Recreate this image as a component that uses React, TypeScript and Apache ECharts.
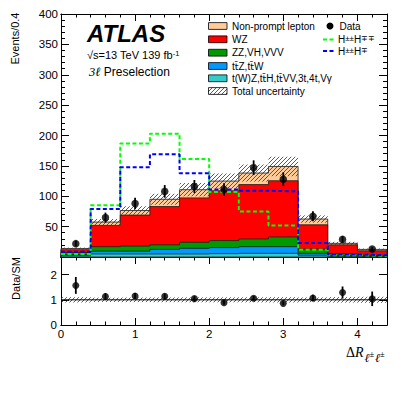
import React, { useEffect, useRef } from 'react';
import * as echarts from 'echarts';

// ---------------- data ----------------
const binEdges = [0, 0.4, 0.8, 1.2, 1.6, 2.0, 2.4, 2.8, 3.2, 3.6, 4.0, 4.4];
const nonPrompt = [2, 5.5, 7.5, 12, 13.5, 16, 19, 23.5, 9.5, 2.5, 2.3];
const wz = [4.5, 35, 51, 63, 73, 82, 89.5, 92.5, 40, 14.5, 7.2];
const zzVHVVV = [3.5, 7.5, 8.5, 7.5, 10, 11.5, 12.7, 16, 7, 3, 1.5];
const ttZttW = [2, 4.5, 4.5, 7.5, 9.3, 10, 11, 11, 3, 1.5, 1];
const tWZother = [2, 5, 5, 5, 5, 5.5, 6, 6, 3, 1, 0.5];
const totalUnc = [1.5, 5, 7, 9, 11, 12.5, 14, 16, 6, 2.5, 1.5];
const dataCounts = [22, 65, 88, 108, 116, 111, 147, 128, 67, 29, 13];
const dataErr = [4.7, 8.1, 9.4, 10.4, 10.8, 10.5, 12.1, 11.3, 8.2, 5.4, 3.6];
const sigHppHmm = [5, 85, 187, 203, 161.5, 107, 75, 52, 12, 3, 2];
const sigHppHm = [8.8, 79, 147.6, 169, 138, 111, 109, 108, 23, 4, 3];
const yTicksMain = [50, 100, 150, 200, 250, 300, 350, 400];
const xTickLabels = [0, 1, 2, 3, 4];
const ratioTickLabels = [0, 1, 2];

// ---------------- derived ----------------
const FONT = "'Liberation Sans', Arial, Helvetica, sans-serif";
const SERIF = "'Liberation Serif', 'Times New Roman', serif";
const nBins = dataCounts.length;
const binCenters = dataCounts.map((_, i) => (binEdges[i] + binEdges[i + 1]) / 2);

const TB = '{o|t\u0304}';
const stackLayers = [
  { label: '{n|Non-prompt lepton}', values: nonPrompt, color: '#FFCC99' },
  { label: '{n|WZ}', values: wz, color: '#FF0000' },
  { label: '{n|ZZ,VH,VVV}', values: zzVHVVV, color: '#009900' },
  { label: `{n|t}${TB}{n|Z,t}${TB}{n|W}`, values: ttZttW, color: '#0099FF' },
  { label: `{n|t(W)Z,t}${TB}{n|H,t}${TB}{n|VV,3t,4t,V\u03b3}`, values: tWZother, color: '#33CCCC' },
];
const cumulative = stackLayers.map((_, k) =>
  dataCounts.map((__, i) => stackLayers.slice(k).reduce((s, l) => s + l.values[i], 0))
);
const total = cumulative[0];
const ratio = dataCounts.map((d, i) => d / total[i]);
const ratioErr = dataErr.map((e, i) => e / total[i]);
const ratioUnc = totalUnc.map((u, i) => u / total[i]);

function hatch(x0: number, y0: number, w: number, h: number, spacing = 4, color = '#333', lw = 0.8) {
  const out: any[] = [];
  const cStart = Math.ceil((x0 + y0) / spacing) * spacing;
  for (let c = cStart; c < x0 + w + y0 + h; c += spacing) {
    const xa = Math.max(x0, c - (y0 + h));
    const xb = Math.min(x0 + w, c - y0);
    if (xb > xa) {
      out.push({ type: 'line', shape: { x1: xa, y1: c - xa, x2: xb, y2: c - xb }, style: { stroke: color, lineWidth: lw } });
    }
  }
  return out;
}

const axisLine = { show: true, onZero: false, lineStyle: { color: '#000', width: 1 } };

function xAx(grid: number, position: string, interval: number, tickLen: number, labels: boolean) {
  return {
    type: 'value', gridIndex: grid, position, min: 0, max: 4.4, interval,
    axisLine,
    axisTick: { show: true, inside: true, length: tickLen, lineStyle: { color: '#000', width: 1 } },
    axisLabel: {
      show: labels, margin: 3, color: '#000', fontFamily: FONT, fontSize: 11.5,
      formatter: (v: number) => (xTickLabels.includes(Math.round(v * 1000) / 1000) ? String(v) : ''),
    },
    splitLine: { show: false },
  };
}

function yMain(position: string, labels: boolean) {
  return {
    type: 'value', gridIndex: 0, position, min: 0, max: 400, interval: 50,
    axisLine,
    axisTick: { show: true, inside: true, length: 8, lineStyle: { color: '#000' } },
    minorTick: { show: true, splitNumber: 5, length: 4, lineStyle: { color: '#000' } },
    axisLabel: {
      show: labels, margin: 3, color: '#000', fontFamily: FONT, fontSize: 11.5,
      formatter: (v: number) => (yTicksMain.includes(v) ? String(v) : ''),
    },
    splitLine: { show: false },
  };
}

function yRatio(position: string, labels: boolean) {
  return {
    type: 'value', gridIndex: 1, position, min: 0, max: 2.7, interval: 1,
    axisLine,
    axisTick: { show: true, inside: true, length: 8, lineStyle: { color: '#000' } },
    axisLabel: {
      show: labels, margin: 4, color: '#000', fontFamily: FONT, fontSize: 11.5,
      formatter: (v: number) => (ratioTickLabels.includes(v) ? String(v) : ''),
    },
    splitLine: { show: false },
  };
}

function errorBarSeries(xIdx: number, yIdx: number, vals: number[], errs: number[]) {
  return {
    type: 'custom', xAxisIndex: xIdx, yAxisIndex: yIdx, z: 8,
    data: vals.map((v, i) => [binCenters[i], v]),
    renderItem: (params: any, api: any) => {
      const i = params.dataIndex;
      const a = api.coord([binCenters[i], vals[i] - errs[i]]);
      const b = api.coord([binCenters[i], vals[i] + errs[i]]);
      return { type: 'line', shape: { x1: a[0], y1: a[1], x2: b[0], y2: b[1] }, style: { stroke: '#000', lineWidth: 1.8 } };
    },
  };
}

function stepData(vals: number[]) {
  return binEdges.map((e, i) => [e, vals[Math.min(i, nBins - 1)]]);
}

// ---------------- legend (graphic) ----------------
const legendRowsY = [26, 39.3, 52.7, 66, 78.3, 91];
const legendBoxX = 208.5;
const legendBoxW = 18.5;
const legendBoxH = 6.8;

function buildGraphic() {
  const g: any[] = [];
  const text = (x: number, y: number, t: string, size: number, extra: any = {}) => ({
    type: 'text', x, y, z: 100,
    style: { text: t, fontFamily: FONT, fontSize: size, fill: '#000', align: 'left', verticalAlign: 'middle', ...extra },
  });
  const legendRich = {
    n: { fontFamily: FONT, fontSize: 10, fill: '#000' },
    o: { fontFamily: "'DejaVu Sans', 'Noto Sans', sans-serif", fontSize: 9.5, fill: '#000' },
  };
  // ATLAS label
  g.push(text(87, 33.5, 'ATLAS', 24, { fontWeight: 'bold', fontStyle: 'italic' }));
  g.push({
    type: 'text', x: 87, y: 55, z: 100,
    style: {
      text: '{a|\u221as=13 TeV 139 fb}{b|-1}', verticalAlign: 'middle', align: 'left',
      rich: {
        a: { fontFamily: FONT, fontSize: 11, fill: '#000' },
        b: { fontFamily: FONT, fontSize: 7.5, fill: '#000', verticalAlign: 'top' },
      },
    },
  });
  g.push({
    type: 'text', x: 89, y: 72, z: 100,
    style: {
      text: '{a|3\u2113}{b| Preselection}', verticalAlign: 'middle', align: 'left',
      rich: {
        a: { fontFamily: SERIF, fontStyle: 'italic', fontSize: 12.5, fill: '#000' },
        b: { fontFamily: FONT, fontSize: 12, fill: '#000' },
      },
    },
  });
  // stacked legend boxes
  stackLayers.forEach((l, k) => {
    const y = legendRowsY[k];
    g.push({
      type: 'rect', z: 100,
      shape: { x: legendBoxX, y: y - legendBoxH / 2, width: legendBoxW, height: legendBoxH },
      style: { fill: l.color, stroke: '#000', lineWidth: 0.8 },
    });
    g.push({
      type: 'text', x: 232, y, z: 100,
      style: { text: l.label, align: 'left', verticalAlign: 'middle', rich: legendRich },
    });
  });
  const hy = legendRowsY[5];
  g.push({
    type: 'group', z: 100,
    children: [
      ...hatch(legendBoxX, hy - legendBoxH / 2, legendBoxW, legendBoxH, 4, '#333', 0.8),
      {
        type: 'rect', shape: { x: legendBoxX, y: hy - legendBoxH / 2, width: legendBoxW, height: legendBoxH },
        style: { fill: 'none', stroke: '#000', lineWidth: 0.8 },
      },
    ],
  });
  g.push(text(232, hy, 'Total uncertainty', 10));
  // data legend
  g.push({ type: 'circle', z: 100, shape: { cx: 330, cy: 26, r: 3.5 }, style: { fill: '#000' } });
  g.push(text(339.5, 26, 'Data', 10));
  // signal legends
  const sigRich = {
    n: { fontFamily: FONT, fontSize: 10, fill: '#000' },
    s: { fontFamily: FONT, fontSize: 8, fill: '#000', verticalAlign: 'top' },
  };
  g.push({ type: 'line', z: 100, shape: { x1: 323, y1: 39.5, x2: 335, y2: 39.5 }, style: { stroke: '#00FF00', lineWidth: 2, lineDash: [4, 2.5] } });
  g.push({
    type: 'text', x: 338, y: 39.5, z: 100,
    style: { text: '{n|H}{s|\u00b1\u00b1}{n|H}{s|\u2213\u2213}', verticalAlign: 'middle', align: 'left', rich: sigRich },
  });
  g.push({ type: 'line', z: 100, shape: { x1: 323, y1: 51, x2: 335, y2: 51 }, style: { stroke: '#0000FF', lineWidth: 2, lineDash: [4, 2.5] } });
  g.push({
    type: 'text', x: 338, y: 51, z: 100,
    style: { text: '{n|H}{s|\u00b1\u00b1}{n|H}{s|\u2213}', verticalAlign: 'middle', align: 'left', rich: sigRich },
  });
  // axis titles
  g.push({
    type: 'text', x: 15, y: 38.5, rotation: Math.PI / 2, z: 100,
    style: { text: 'Events/0.4', fontFamily: FONT, fontSize: 11, fill: '#000', align: 'center', verticalAlign: 'middle' },
  });
  g.push({
    type: 'text', x: 16, y: 278.5, rotation: Math.PI / 2, z: 100,
    style: { text: 'Data/SM', fontFamily: FONT, fontSize: 11, fill: '#000', align: 'center', verticalAlign: 'middle' },
  });
  g.push({
    type: 'text', x: 346, y: 352, z: 100,
    style: { text: '\u0394', fontFamily: SERIF, fontSize: 14, fill: '#000', align: 'left', verticalAlign: 'middle' },
  });
  g.push({
    type: 'text', x: 355, y: 352, z: 100,
    style: { text: 'R', fontFamily: SERIF, fontStyle: 'italic', fontSize: 14, fill: '#000', align: 'left', verticalAlign: 'middle' },
  });
  const sub = (x: number, t: string, y: number, size: number, italic: boolean) => ({
    type: 'text', x, y, z: 100,
    style: { text: t, fontFamily: SERIF, fontStyle: italic ? 'italic' : 'normal', fontSize: size, fill: '#000', align: 'left', verticalAlign: 'middle' },
  });
  g.push(sub(364.5, '\u2113', 358, 12, true));
  g.push(sub(369.5, '\u00b1', 353.5, 8.5, false));
  g.push(sub(375, '\u2113', 358, 12, true));
  g.push(sub(380, '\u00b1', 353.5, 8.5, false));
  return g;
}

export default function App() {
  const ref = useRef<HTMLDivElement>(null);
  useEffect(() => {
    document.body.style.margin = '0';
    if (!ref.current) return;
    const chart = echarts.init(ref.current, null, { renderer: 'svg' });
    const option: any = {
      animation: false,
      backgroundColor: '#fff',
      grid: [
        { left: 61, top: 14, width: 326, height: 243, containLabel: false },
        { left: 61, top: 257, width: 326, height: 68, containLabel: false },
      ],
      xAxis: [
        xAx(0, 'bottom', 1, 7, false),
        xAx(0, 'bottom', 0.2, 3.5, false),
        xAx(0, 'top', 1, 7, false),
        xAx(0, 'top', 0.2, 3.5, false),
        xAx(1, 'bottom', 1, 7, true),
        xAx(1, 'bottom', 0.2, 3.5, false),
        xAx(1, 'top', 1, 7, false),
        xAx(1, 'top', 0.2, 3.5, false),
      ],
      yAxis: [yMain('left', true), yMain('right', false), yRatio('left', true), yRatio('right', false)],
      series: [
        {
          type: 'custom', xAxisIndex: 0, yAxisIndex: 0, z: 1,
          data: stackLayers.map((_, k) => [binEdges[0], 0, k]),
          renderItem: (params: any, api: any) => {
            const k = params.dataIndex;
            const cum = cumulative[k];
            const pts: number[][] = [api.coord([binEdges[0], 0])];
            for (let i = 0; i < nBins; i++) {
              pts.push(api.coord([binEdges[i], cum[i]]));
              pts.push(api.coord([binEdges[i + 1], cum[i]]));
            }
            pts.push(api.coord([binEdges[nBins], 0]));
            return { type: 'polygon', shape: { points: pts }, style: { fill: stackLayers[k].color, stroke: '#1a1a1a', lineWidth: 0.8 } };
          },
        },
        {
          type: 'custom', xAxisIndex: 0, yAxisIndex: 0, z: 3,
          data: total.map((t, i) => [binCenters[i], t]),
          renderItem: (params: any, api: any) => {
            const i = params.dataIndex;
            const p1 = api.coord([binEdges[i], total[i] + totalUnc[i]]);
            const p2 = api.coord([binEdges[i + 1], total[i] - totalUnc[i]]);
            return { type: 'group', children: hatch(p1[0], p1[1], p2[0] - p1[0], p2[1] - p1[1]) };
          },
        },
        {
          type: 'line', xAxisIndex: 0, yAxisIndex: 0, z: 5, step: 'end', symbol: 'none',
          data: stepData(sigHppHmm),
          lineStyle: { color: '#00FF00', width: 2, type: [4, 2.5] },
        },
        {
          type: 'line', xAxisIndex: 0, yAxisIndex: 0, z: 6, step: 'end', symbol: 'none',
          data: stepData(sigHppHm),
          lineStyle: { color: '#0000FF', width: 2, type: [4, 2.5] },
        },
        errorBarSeries(0, 0, dataCounts, dataErr),
        {
          type: 'scatter', xAxisIndex: 0, yAxisIndex: 0, z: 9, symbolSize: 7.5,
          itemStyle: { color: '#000' },
          data: dataCounts.map((d, i) => [binCenters[i], d]),
        },
        // ratio panel
        {
          type: 'custom', xAxisIndex: 4, yAxisIndex: 2, z: 3,
          data: ratioUnc.map((u, i) => [binCenters[i], 1]),
          renderItem: (params: any, api: any) => {
            const i = params.dataIndex;
            const p1 = api.coord([binEdges[i], 1 + ratioUnc[i]]);
            const p2 = api.coord([binEdges[i + 1], 1 - ratioUnc[i]]);
            return { type: 'group', children: hatch(p1[0], p1[1], p2[0] - p1[0], p2[1] - p1[1]) };
          },
        },
        {
          type: 'line', xAxisIndex: 4, yAxisIndex: 2, z: 4, symbol: 'none',
          data: [[binEdges[0], 1], [binEdges[nBins], 1]],
          lineStyle: { color: '#000', width: 1 },
        },
        errorBarSeries(4, 2, ratio, ratioErr),
        {
          type: 'scatter', xAxisIndex: 4, yAxisIndex: 2, z: 9, symbolSize: 7,
          itemStyle: { color: '#000' },
          data: ratio.map((r, i) => [binCenters[i], r]),
        },
      ],
      graphic: buildGraphic(),
    };
    chart.setOption(option);
    return () => chart.dispose();
  }, []);
  return <div ref={ref} style={{ width: 407, height: 395 }} />;
}
